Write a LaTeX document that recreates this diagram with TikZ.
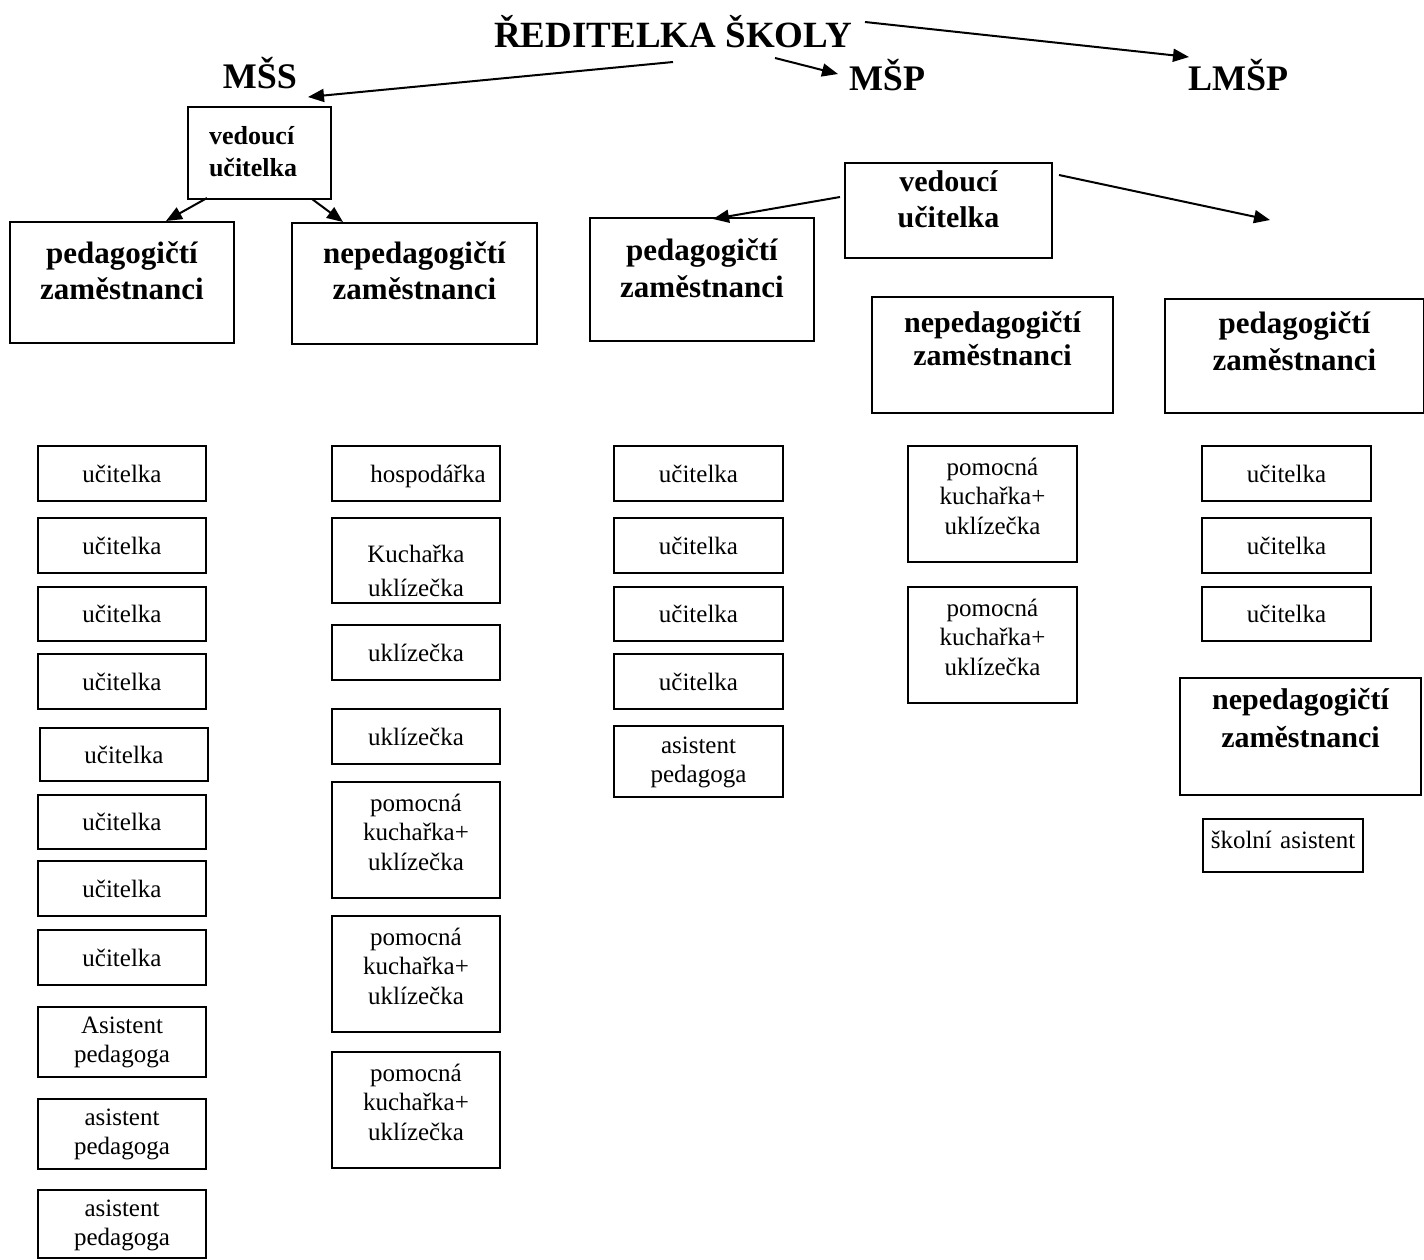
\documentclass[tikz,border=0pt]{standalone}
\usepackage{fontspec}
\setmainfont{Liberation Serif}
\usetikzlibrary{arrows.meta}
\newcommand\Bx[8]{% name, style, x1, x2, top, bottom, baseline, text
  \pgfmathsetmacro\bxc{(#3+#4)/2}%
  \pgfmathsetmacro\bxw{#4-#3}%
  \pgfmathsetmacro\bxh{#7-#5}%
  \pgfmathsetmacro\bxd{#6-#7}%
  \node[bx,#2,text width=\bxw pt,text height=\bxh pt,text depth=\bxd pt] (#1) at (\bxc,#7) {#8};}
\tikzset{
  bx/.style={draw, line width=1.5pt, inner sep=0pt, anchor=base, align=center},
  sm/.style={font=\fontsize{25}{29.5}\selectfont},
  hd/.style 2 args={font=\fontsize{#1}{#2}\selectfont\bfseries},
  ttl/.style={inner sep=0pt, anchor=base, font=\fontsize{36}{40}\selectfont\bfseries},
  arr/.style={-{Triangle[length=16pt,width=13pt]}, line width=2pt},
}
\begin{document}
\begin{tikzpicture}[x=1pt,y=-1pt]
\useasboundingbox (0,0) rectangle (1424,1259);
% headings
\node[ttl, font=\fontsize{37}{40}\selectfont\bfseries] (red) at (673,47) {ŘEDITELKA ŠKOLY};
\node[ttl] (mss) at (260,88) {MŠS};
\node[ttl] (msp) at (887,90) {MŠP};
\node[ttl] (lmsp) at (1238,90) {LMŠP};
% MŠS
\node[bx, font=\fontsize{26}{32}\selectfont\bfseries, align=left, text width=101pt, inner xsep=21pt, text height=37pt, text depth=55pt] (mssv) at (259.5,144) {vedoucí\\učitelka};
\Bx{mssp}{hd={31}{36}}{10}{234}{222}{343}{263}{pedagogičtí\\zaměstnanci}
\Bx{mssn}{hd={31}{36}}{292}{537}{223}{344}{263}{nepedagogičtí\\zaměstnanci}
% MŠP
\Bx{mspv}{hd={30}{36}}{845}{1052}{163}{258}{191}{vedoucí\\učitelka}
\Bx{mspp}{hd={31}{37}}{590}{814}{218}{341}{260}{pedagogičtí\\zaměstnanci}
\Bx{mspn}{hd={30}{33}}{872}{1113}{297}{413}{332}{nepedagogičtí\\zaměstnanci}
% LMŠP
\Bx{lmp}{hd={31}{37}}{1165}{1424}{299}{413}{333}{pedagogičtí\\zaměstnanci}
\Bx{lmn}{hd={30}{38}}{1180}{1421}{678}{795}{709}{nepedagogičtí\\zaměstnanci}
% column 1
\Bx{p1}{sm}{38}{206}{446}{501}{482}{učitelka}
\Bx{p2}{sm}{38}{206}{518}{573}{554}{učitelka}
\Bx{p3}{sm}{38}{206}{587}{641}{622}{učitelka}
\Bx{p4}{sm}{38}{206}{654}{709}{690}{učitelka}
\Bx{p5}{sm}{40}{208}{728}{781}{763}{učitelka}
\Bx{p6}{sm}{38}{206}{795}{849}{830}{učitelka}
\Bx{p7}{sm}{38}{206}{861}{916}{897}{učitelka}
\Bx{p8}{sm}{38}{206}{930}{985}{966}{učitelka}
\Bx{p9}{sm}{38}{206}{1007}{1077}{1033}{Asistent\\pedagoga}
\Bx{p10}{sm}{38}{206}{1099}{1169}{1125}{asistent\\pedagoga}
\Bx{p11}{sm}{38}{206}{1190}{1258}{1216}{asistent\\pedagoga}
% column 2
\Bx{n1}{sm}{332}{500}{446}{501}{482}{\hspace*{24pt}hospodářka}
\Bx{n2}{sm}{332}{500}{518}{603}{562}{Kuchařka\\[4.5pt]uklízečka}
\Bx{n3}{sm}{332}{500}{625}{680}{661}{uklízečka}
\Bx{n4}{sm}{332}{500}{709}{764}{745}{uklízečka}
\Bx{n5}{sm}{332}{500}{782}{898}{811}{pomocná\\kuchařka+\\uklízečka}
\Bx{n6}{sm}{332}{500}{916}{1032}{945}{pomocná\\kuchařka+\\uklízečka}
\Bx{n7}{sm}{332}{500}{1052}{1168}{1081}{pomocná\\kuchařka+\\uklízečka}
% column 3
\Bx{k1}{sm}{614}{783}{446}{501}{482}{učitelka}
\Bx{k2}{sm}{614}{783}{518}{573}{554}{učitelka}
\Bx{k3}{sm}{614}{783}{587}{641}{622}{učitelka}
\Bx{k4}{sm}{614}{783}{654}{709}{690}{učitelka}
\Bx{k5}{sm}{614}{783}{726}{797}{753}{asistent\\pedagoga}
% column 4
\Bx{m1}{sm}{908}{1077}{446}{562}{475}{pomocná\\kuchařka+\\uklízečka}
\Bx{m2}{sm}{908}{1077}{587}{703}{616}{pomocná\\kuchařka+\\uklízečka}
% column 5
\Bx{l1}{sm}{1202}{1371}{446}{501}{482}{učitelka}
\Bx{l2}{sm}{1202}{1371}{518}{573}{554}{učitelka}
\Bx{l3}{sm}{1202}{1371}{587}{641}{622}{učitelka}
\Bx{l4}{sm}{1203}{1363}{819}{872}{848}{školní asistent}
% connector ends
\coordinate (redL) at (673,62);
\coordinate (mssR) at (308,97);
\coordinate (redM) at (775,58);
\coordinate (mspL) at (838,74);
\coordinate (redR) at (865,22);
\coordinate (lmspT) at (1189,57);
\coordinate (mssvL) at (207,198);
\coordinate (msspT) at (166,221);
\coordinate (mssvR) at (312,199);
\coordinate (mssnT) at (343,222);
\coordinate (mspvL) at (840,197);
\coordinate (msppT) at (713,219);
\coordinate (mspvR) at (1059,175);
\coordinate (freeR) at (1270,220);
% connectors
\draw[arr] (redL) -- (mssR);
\draw[arr] (redM) -- (mspL);
\draw[arr] (redR) -- (lmspT);
\draw[arr] (mssvL) -- (msspT);
\draw[arr] (mssvR) -- (mssnT);
\draw[arr] (mspvL) -- (msppT);
\draw[arr] (mspvR) -- (freeR);
\end{tikzpicture}
\end{document}
